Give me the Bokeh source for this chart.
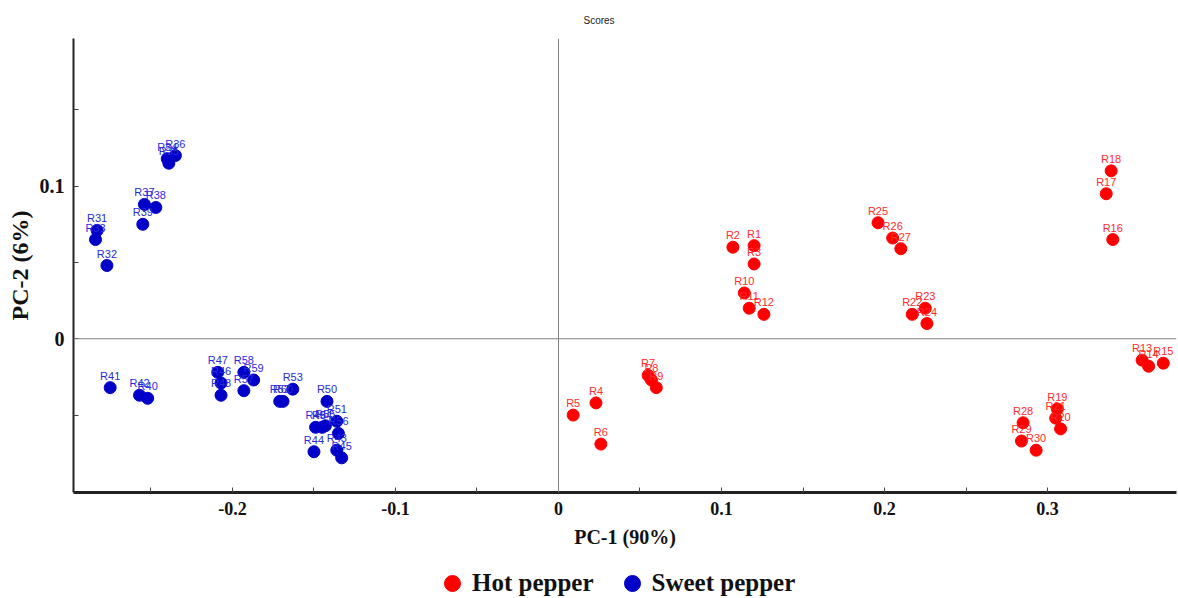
from bokeh.plotting import figure
from bokeh.layouts import column
from bokeh.models import (ColumnDataSource, Span, Legend, LegendItem, FixedTicker,
                          CustomJSTickFormatter, Range1d)
from bokeh.core.properties import value
from bokeh.embed import file_html
from bokeh.resources import INLINE

# ---- data (PCA scores) ----
hot_names = ["R1", "R2", "R3", "R4", "R5", "R6", "R7", "R8", "R9", "R10",
             "R11", "R12", "R13", "R14", "R15", "R16", "R17", "R18", "R19", "R20",
             "R21", "R22", "R23", "R24", "R25", "R26", "R27", "R28", "R29", "R30"]
hot_pc1 = [0.120, 0.107, 0.120, 0.023, 0.009, 0.026, 0.055, 0.057, 0.060, 0.114,
           0.117, 0.126, 0.358, 0.362, 0.371, 0.340, 0.336, 0.339, 0.306, 0.308,
           0.305, 0.217, 0.225, 0.226, 0.196, 0.205, 0.210, 0.285, 0.284, 0.293]
hot_pc2 = [0.061, 0.060, 0.049, -0.042, -0.050, -0.069, -0.024, -0.027, -0.032, 0.030,
           0.020, 0.016, -0.014, -0.018, -0.016, 0.065, 0.095, 0.110, -0.046, -0.059,
           -0.052, 0.016, 0.020, 0.010, 0.076, 0.066, 0.059, -0.055, -0.067, -0.073]

sweet_names = ["R31", "R32", "R33", "R34", "R35", "R36", "R37", "R38", "R39", "R40",
               "R41", "R42", "R43", "R44", "R45", "R46", "R47", "R48", "R49", "R50",
               "R51", "R52", "R53", "R54", "R55", "R56", "R57", "R58", "R59", "R60"]
sweet_pc1 = [-0.283, -0.277, -0.284, -0.240, -0.239, -0.235, -0.254, -0.247, -0.255, -0.252,
             -0.275, -0.257, -0.136, -0.150, -0.133, -0.207, -0.209, -0.207, -0.149, -0.142,
             -0.136, -0.171, -0.163, -0.145, -0.143, -0.135, -0.193, -0.193, -0.187, -0.169]
sweet_pc2 = [0.071, 0.048, 0.065, 0.118, 0.115, 0.120, 0.088, 0.086, 0.075, -0.039,
             -0.032, -0.037, -0.073, -0.074, -0.078, -0.029, -0.022, -0.037, -0.058, -0.041,
             -0.054, -0.041, -0.033, -0.058, -0.057, -0.062, -0.034, -0.022, -0.027, -0.041]

groups = ["Hot pepper", "Sweet pepper"]

x_major = [-0.2, -0.1, 0.0, 0.1, 0.2, 0.3]
x_minor = [-0.25, -0.15, -0.05, 0.05, 0.15, 0.25, 0.35]
y_major = [0.0, 0.1]
y_minor = [-0.05, 0.05, 0.15]

HOT = "#ff0000"
SWEET = "#0000c8"

p = figure(width=1178, height=556, output_backend="svg", toolbar_location=None,
           x_range=Range1d(-0.2975, 0.3791), y_range=Range1d(-0.1007, 0.1967),
           min_border_left=73, min_border_right=2, min_border_top=37, min_border_bottom=64)

p.title.text = "Scores"
p.title.align = "left"
p.title.offset = 510
p.title.text_font = "Liberation Sans"
p.title.text_font_size = "10px"
p.title.text_font_style = "normal"
p.title.text_color = "#222222"
p.title.standoff = 25

p.grid.visible = False
p.outline_line_color = None
p.background_fill_color = "white"

for ax in (p.xaxis, p.yaxis):
    ax.axis_line_color = "#222222"
    ax.major_tick_in = 5
    ax.major_tick_out = 0
    ax.minor_tick_in = 5
    ax.minor_tick_out = 0
    ax.major_tick_line_color = "#444444"
    ax.minor_tick_line_color = "#444444"
    ax.major_label_text_font = "Liberation Serif"
    ax.major_label_text_font_style = "bold"
    ax.major_label_text_color = "#111111"
    ax.axis_label_text_font = "Liberation Serif"
    ax.axis_label_text_font_style = "bold"
    ax.axis_label_text_color = "#111111"
    ax.formatter = CustomJSTickFormatter(code="return Math.abs(tick) < 1e-9 ? '0' : tick.toFixed(1);")

p.xaxis.axis_line_width = 3
p.yaxis.axis_line_width = 2
p.xaxis.major_label_text_font_size = "18px"
p.yaxis.major_label_text_font_size = "20px"
p.xaxis.axis_label_text_font_size = "20px"
p.yaxis.axis_label_text_font_size = "24px"

p.xaxis.ticker = FixedTicker(ticks=x_major, minor_ticks=x_minor)
p.yaxis.ticker = FixedTicker(ticks=y_major, minor_ticks=y_minor)
p.xaxis.axis_label = "PC-1 (90%)"
p.yaxis.axis_label = "PC-2 (6%)"
p.xaxis.major_label_standoff = 9
p.xaxis.axis_label_standoff = 8
p.yaxis.major_label_standoff = 9
p.yaxis.axis_label_standoff = 4

p.add_layout(Span(location=0, dimension="height", line_color="#808080", line_width=1))
p.add_layout(Span(location=0, dimension="width", line_color="#808080", line_width=1))

hot_src = ColumnDataSource(dict(x=hot_pc1, y=hot_pc2, name=hot_names))
sweet_src = ColumnDataSource(dict(x=sweet_pc1, y=sweet_pc2, name=sweet_names))

p.scatter("x", "y", source=hot_src, size=12, color=HOT)
p.scatter("x", "y", source=sweet_src, size=12, color=SWEET)

p.text("x", "y", text="name", source=hot_src, text_align="center", text_baseline="bottom",
       y_offset=-6, text_font=value("Liberation Sans"), text_font_size="11px",
       text_color="#ff2a2a")
p.text("x", "y", text="name", source=sweet_src, text_align="center", text_baseline="bottom",
       y_offset=-6, text_font=value("Liberation Sans"), text_font_size="11px",
       text_color="#2a2ad8")

# ---- legend strip below the chart ----
lg = figure(width=1178, height=42, output_backend="svg", toolbar_location=None,
            x_range=Range1d(-0.2975, 0.3791), y_range=Range1d(-0.1007, 0.1967),
            x_axis_location=None, y_axis_location=None,
            min_border=0, min_border_left=0, min_border_right=0,
            min_border_top=0, min_border_bottom=0)
lg.grid.visible = False
lg.outline_line_color = None
# legend keys: hidden copies of the series (only their legend swatch is shown)
r_hot_key = lg.scatter(x=hot_pc1[:1], y=hot_pc2[:1], size=18, color=HOT, visible=False)
r_sweet_key = lg.scatter(x=sweet_pc1[:1], y=sweet_pc2[:1], size=18, color=SWEET, visible=False)

legend = Legend(items=[LegendItem(label=groups[0], renderers=[r_hot_key]),
                       LegendItem(label=groups[1], renderers=[r_sweet_key])],
                orientation="horizontal", location=(359, -5),
                label_text_font="Liberation Serif", label_text_font_style="bold",
                label_text_font_size="25px", label_text_color="#111111",
                border_line_color=None, background_fill_alpha=0,
                glyph_width=40, glyph_height=40, spacing=18, padding=0, margin=0,
                label_standoff=-2)
lg.add_layout(legend, "center")

open("out.html", "w").write(file_html(column(p, lg, spacing=0), INLINE))
